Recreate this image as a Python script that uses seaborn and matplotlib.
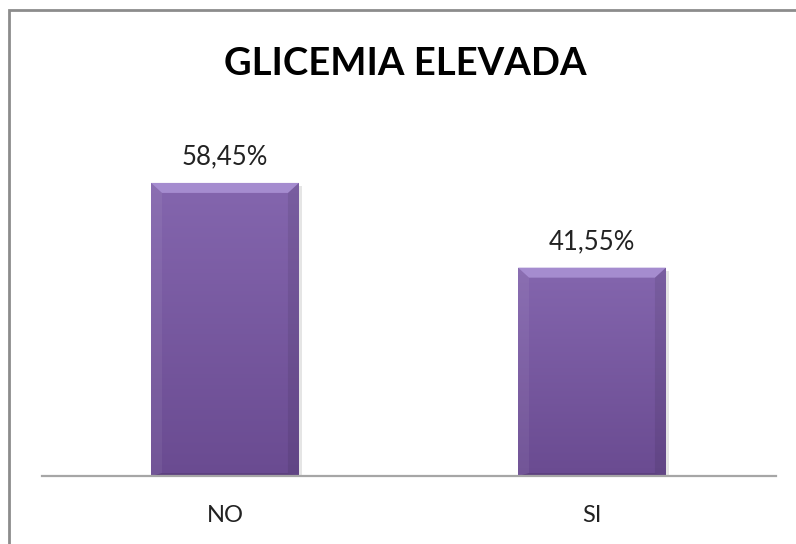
import matplotlib
matplotlib.use("Agg")
import matplotlib.pyplot as plt
from matplotlib.patches import Polygon, Rectangle
from matplotlib.colors import LinearSegmentedColormap
import numpy as np
import seaborn as sns
import pandas as pd

# Data
categories = ["NO", "SI"]
percentages = [58.45, 41.55]
value_labels = ["58,45%", "41,55%"]
title = "GLICEMIA ELEVADA"

sns.set_theme(style="white")
plt.rcParams["font.family"] = ["Lato", "DejaVu Sans"]

W, H = 796, 544
fig = plt.figure(figsize=(W / 100, H / 100), dpi=100)
ax = fig.add_axes([41.5 / W, 68 / H, 734 / W, 351 / H])

df = pd.DataFrame({"cat": categories, "pct": percentages})
sns.barplot(data=df, x="cat", y="pct", color="#7E60A8", saturation=1,
            width=0.403, ax=ax, edgecolor="none", zorder=2)
ax.set_ylim(0, 70)
ax.set_xlim(-0.5, 1.5)

# vertical shading inside each bar (lighter at top, darker at bottom)
shade = LinearSegmentedColormap.from_list("bar_shade", ["#6A4B91", "#8466AE"])
grad = np.linspace(0, 1, 256).reshape(-1, 1)

to_data = ax.transData.inverted()
bars = list(ax.patches)
for bar, lbl in zip(bars, value_labels):
    x0, y0 = bar.get_x(), bar.get_y()
    w, h = bar.get_width(), bar.get_height()
    x1, y1 = x0 + w, y0 + h
    im = ax.imshow(grad, extent=(x0, x1, y0, y1), origin="lower", cmap=shade,
                   aspect="auto", zorder=2.1, interpolation="bilinear")
    im.set_clip_path(bar)
    # bevel sizes in data units
    p0 = to_data.transform((0, 0))
    p1 = to_data.transform((11, 10))
    bx, by = p1[0] - p0[0], p1[1] - p0[1]
    # soft shadow
    sp = to_data.transform((3, -3)) - p0
    ax.add_patch(Rectangle((x0 + sp[0], y0), w, h + sp[1], color="#000000",
                           alpha=0.10, zorder=1.5, lw=0))
    top = Polygon([(x0, y1), (x1, y1), (x1 - bx, y1 - by), (x0 + bx, y1 - by)],
                  closed=True, color="#A58CCF", lw=0, zorder=3)
    left = Polygon([(x0, y1), (x0 + bx, y1 - by), (x0 + bx, y0 + by * 0.3), (x0, y0)],
                   closed=True, color="#FFFFFF", alpha=0.06, lw=0, zorder=3)
    right = Polygon([(x1, y1), (x1 - bx, y1 - by), (x1 - bx, y0 + by * 0.3), (x1, y0)],
                    closed=True, color="#000000", alpha=0.08, lw=0, zorder=3)
    bottom = Polygon([(x0, y0), (x1, y0), (x1 - bx, y0 + by * 0.3), (x0 + bx, y0 + by * 0.3)],
                     closed=True, color="#000000", alpha=0.12, lw=0, zorder=3)
    for p in (top, left, right, bottom):
        ax.add_patch(p)
    ax.text(x0 + w / 2, y1 + 5.2, lbl, ha="center", va="center",
            fontsize=18.5, color="#222222")

ax.set_xlabel("")
ax.set_ylabel("")
ax.set_yticks([])
ax.tick_params(axis="x", length=0, labelsize=17, labelcolor="#222222", pad=21)
for side in ("left", "right", "top"):
    ax.spines[side].set_visible(False)
ax.spines["bottom"].set_color("#A6A6A6")
ax.spines["bottom"].set_linewidth(1.6)
ax.spines["bottom"].set_zorder(4)

fig.suptitle(title, x=405 / W, y=1 - 64 / H, va="center",
             fontsize=27.5, fontweight="bold", color="#000000")

# Chart frame
fig.add_artist(Rectangle((9 / W, -0.1), 1.2, 1 - 10 / H + 0.1,
                         transform=fig.transFigure, fill=False,
                         edgecolor="#8C8C8C", linewidth=2))

fig.savefig("out.png", dpi=100, facecolor="white")
